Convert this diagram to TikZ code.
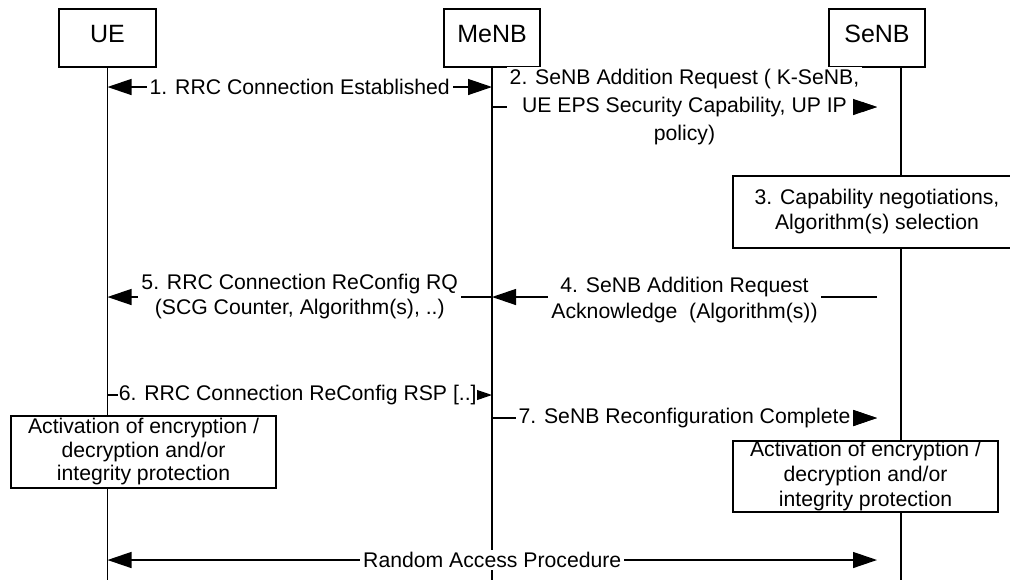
\documentclass[tikz,border=0pt]{standalone}
\usepackage{fontspec}
\setmainfont{Liberation Sans}
\usetikzlibrary{arrows.meta,calc}
\begin{document}
\begin{tikzpicture}[x=0.5pt,y=-0.5pt,
  every node/.style={font=\fontsize{10.6}{12.5}\selectfont},
  lw/.style={line width=0.65pt},
  head/.style={draw, lw, fill=white, minimum width=48pt, minimum height=29pt, inner sep=0pt,
    font=\fontsize{12.5}{15}\selectfont, text depth=4.5pt},
  msg/.style={lw, -{Triangle[length=12pt,width=8pt]}},
  dmsg/.style={lw, {Triangle[length=12pt,width=8pt]}-{Triangle[length=12pt,width=8pt]}},
  lab/.style={fill=white, inner xsep=1.5pt, inner ysep=1pt, align=center},
  procbox/.style={draw, lw, fill=white, align=center, inner sep=0pt},
]
\path[use as bounding box] (0,0) rectangle (1010,580);
\clip (0,0) rectangle (1010,580);

% headers
\node[head, minimum width=48.5pt] (UE) at (107.5,38) {UE};
\node[head] (MeNB) at (492,38) {MeNB};
\node[head] (SeNB) at (877,38) {SeNB};

% lifelines
\coordinate (SeNBtop) at (SeNB.south -| 901,0);
\draw[lw] (UE.south) -- (UE.south |- 0,580);
\draw[lw] (MeNB.south) -- (MeNB.south |- 0,580);
\draw[lw] (SeNBtop) -- (SeNBtop |- 0,580);

% processing boxes
\node[procbox, minimum width=144pt, minimum height=36pt] (sel) at (877,212)
  {3. Capability negotiations,\\Algorithm(s) selection};
\node[procbox, minimum width=132.5pt, minimum height=36pt, font=\fontsize{10.6}{11.75}\selectfont] (actUE) at (143.5,452)
  {Activation of encryption /\\decryption and/or\\integrity protection};
\node[procbox, minimum width=132.5pt, minimum height=35.5pt] (actSeNB) at (865.5,476.5)
  {Activation of encryption /\\decryption and/or\\integrity protection};

% messages
\draw[dmsg] (UE.south |- 0,87) -- (MeNB.south |- 0,87)
  node[midway, lab] (m1) {1. RRC Connection Established};

\draw[msg] (MeNB.south |- 0,107) -- (SeNB.south |- 0,107)
  node[midway, lab, font=\fontsize{10.6}{14.2}\selectfont] (m2)
  {2. SeNB Addition Request ( K-SeNB,\\UE EPS Security Capability, UP IP\\policy)};
\draw[msg] ($(SeNB.south |- 0,107)+(-2,0)$) -- (SeNB.south |- 0,107);

\draw[msg] (SeNB.south |- 0,297) -- (MeNB.south |- 0,297)
  node[midway, lab, yshift=-1.5pt, font=\fontsize{10.6}{13}\selectfont] (m4)
  {4. SeNB Addition Request\\Acknowledge\ \ (Algorithm(s))};

\draw[msg] (MeNB.south |- 0,297) -- (UE.south |- 0,297)
  node[midway, lab] (m5)
  {5. RRC Connection ReConfig RQ\\(SCG Counter, Algorithm(s), ..)};

\draw[msg] (UE.south |- 0,395) -- (MeNB.south |- 0,395)
  node[midway, lab, inner xsep=0.3pt, xshift=-1pt] (m6) {6. RRC Connection ReConfig RSP [..]};

\draw[msg] (MeNB.south |- 0,418) -- (SeNB.south |- 0,418)
  node[midway, lab] (m7) {7. SeNB Reconfiguration Complete};
\draw[msg] ($(SeNB.south |- 0,418)+(-2,0)$) -- (SeNB.south |- 0,418);

\draw[dmsg] (UE.south |- 0,560) -- (SeNB.south |- 0,560)
  node[midway, lab] (ra) {Random Access Procedure};
\end{tikzpicture}
\end{document}
